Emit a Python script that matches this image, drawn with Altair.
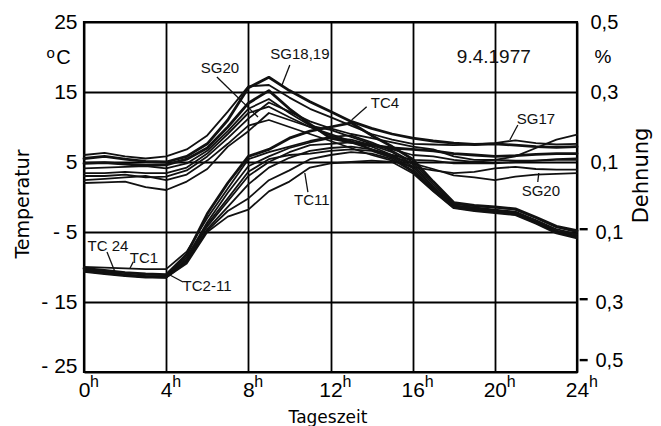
import altair as alt
import pandas as pd

# ---------------- data ----------------
hours = list(range(25))

# strain gauge temperature curves (SG), deg C, hourly 0h..24h
SG1 = [5.5, 5.8, 5.4, 5.1, 5.0, 5.8, 7.6, 11.0, 15.6, 17.1, 15.2, 13.6, 12.2, 10.8, 9.8, 9.0, 8.4, 8.0, 7.7, 7.5, 7.6, 7.4, 7.2, 7.1, 7.2]
SG2 = [4.8, 4.9, 4.7, 4.5, 4.6, 5.4, 7.0, 10.0, 13.4, 15.2, 12.6, 10.4, 8.4, 7.8, 7.4, 7.0, 6.8, 6.6, 6.2, 6.0, 5.8, 5.9, 6.1, 6.2, 6.2]
SG3 = [6.0, 6.3, 5.8, 5.5, 5.8, 6.8, 8.8, 12.2, 15.8, 16.0, 14.2, 12.6, 11.4, 10.2, 9.0, 8.2, 7.6, 7.5, 7.4, 7.5, 7.7, 8.1, 7.7, 7.5, 7.6]
SG4 = [4.1, 4.2, 4.3, 4.4, 4.1, 4.8, 6.6, 9.4, 12.6, 14.0, 12.0, 10.2, 9.6, 8.6, 7.6, 6.8, 6.0, 5.8, 5.3, 5.0, 5.3, 5.8, 7.0, 8.2, 8.9]
SG5 = [3.4, 3.4, 3.6, 3.4, 3.4, 4.2, 6.2, 9.0, 12.0, 12.9, 11.4, 10.0, 8.8, 7.8, 6.8, 6.0, 5.3, 5.2, 4.8, 4.8, 4.8, 5.0, 5.2, 5.4, 5.5]
SG6 = [2.0, 2.1, 2.2, 1.4, 1.0, 2.2, 4.0, 7.2, 9.4, 12.0, 11.0, 10.0, 9.0, 8.0, 6.8, 5.8, 4.8, 4.0, 3.1, 2.8, 2.4, 2.9, 3.2, 3.3, 3.4]
SG7 = [2.4, 2.6, 2.8, 3.0, 2.4, 3.2, 5.2, 7.6, 10.2, 11.0, 10.0, 9.0, 8.0, 7.0, 6.0, 5.2, 4.3, 3.8, 3.4, 3.6, 4.1, 4.3, 4.0, 3.9, 3.9]
SG8 = [3.0, 3.0, 3.2, 2.8, 2.9, 3.8, 5.8, 8.4, 11.2, 13.5, 12.2, 10.8, 9.8, 9.0, 8.4, 7.8, 7.2, 6.8, 5.8, 5.3, 5.3, 5.2, 5.2, 5.3, 5.3]

# thermocouple curves (TC), deg C, hourly 0h..24h
TC1 = [-10.0, -10.1, -10.2, -10.3, -10.3, -7.8, -3.0, 1.2, 5.4, 6.4, 7.2, 8.0, 8.6, 8.8, 7.8, 6.6, 5.0, 1.8, -1.0, -1.3, -1.5, -1.8, -3.0, -4.3, -5.0]
TC4 = [-10.2, -10.5, -10.8, -11.0, -11.1, -8.2, -2.4, 2.0, 5.8, 6.8, 8.4, 9.4, 10.0, 10.6, 8.8, 7.2, 5.4, 2.2, -0.8, -1.2, -1.4, -1.7, -2.9, -4.2, -4.8]
TC24 = [-10.3, -10.6, -11.1, -11.3, -11.3, -8.6, -3.6, 0.6, 4.4, 5.8, 7.0, 7.8, 8.4, 8.2, 7.4, 6.4, 4.7, 1.5, -1.2, -1.5, -1.8, -2.1, -3.3, -4.6, -5.3]
TC2 = [-10.5, -10.8, -11.2, -11.4, -11.4, -9.0, -4.2, -0.6, 3.0, 5.0, 6.4, 7.4, 7.6, 7.8, 7.2, 6.0, 4.4, 1.3, -1.3, -1.6, -1.9, -2.2, -3.5, -4.9, -5.6]
TC3 = [-10.6, -10.9, -11.2, -11.4, -11.5, -9.2, -4.6, -1.4, 1.8, 4.2, 5.6, 6.6, 7.0, 7.2, 6.8, 5.8, 4.1, 1.1, -1.4, -1.7, -2.0, -2.4, -3.6, -5.0, -5.7]
TC5 = [-10.4, -10.8, -11.1, -11.3, -11.4, -8.9, -3.9, -0.2, 3.6, 5.4, 6.0, 6.2, 6.6, 6.8, 6.6, 5.6, 3.8, 1.0, -1.5, -1.8, -2.0, -2.3, -3.4, -4.8, -5.4]
TC6 = [-10.6, -10.9, -11.2, -11.4, -11.5, -9.3, -4.8, -2.0, -0.2, 2.4, 3.8, 5.4, 6.0, 6.4, 6.2, 5.4, 3.6, 0.9, -1.5, -1.9, -2.2, -2.5, -3.7, -5.1, -5.8]
TC11 = [-10.7, -11.0, -11.3, -11.5, -11.5, -9.5, -5.0, -2.8, -1.8, 0.8, 2.2, 4.2, 4.8, 5.0, 5.2, 5.0, 3.4, 0.8, -1.6, -2.0, -2.3, -2.6, -3.8, -5.2, -5.9]

series = {"SG1": SG1, "SG2": SG2, "SG3": SG3, "SG4": SG4, "SG5": SG5, "SG6": SG6,
          "SG7": SG7, "SG8": SG8, "TC1": TC1, "TC4": TC4, "TC24": TC24, "TC2": TC2,
          "TC3": TC3, "TC5": TC5, "TC6": TC6, "TC11": TC11}
bold_series = ["SG1", "SG2", "TC4"]

x_ticks = [0, 4, 8, 12, 16, 20, 24]
y_ticks = [-25, -15, -5, 5, 15, 25]
dehnung_ticks = [-0.5, -0.3, -0.1, 0.1, 0.3, 0.5]
dehnung_per_degree = 0.02   # right scale: 25 deg C <-> 0,5 %

# curve labels with leader lines (data units: hours, deg C)
ann_text = ["SG20", "SG18,19", "TC4", "SG17", "SG20", "TC11", "TC 24", "TC1", "TC2-11"]
ann_x = [6.62, 10.51, 14.65, 22.0, 22.24, 11.09, 1.17, 2.92, 5.99]
ann_y = [18.36, 20.43, 13.43, 11.14, 0.86, -0.43, -7.0, -8.71, -12.71]
lead_x1 = [6.47, 10.02, 13.76, 21.12, 22.09, 10.9, 1.12, 2.40, 4.82]
lead_y1 = [17.14, 18.86, 12.9, 10.29, 2.14, 0.71, -7.86, -9.24, -12.14]
lead_x2 = [8.47, 9.64, 13.03, 20.73, 22.14, 10.75, 1.51, 2.24, 4.18]
lead_y2 = [11.43, 16.0, 11.0, 8.14, 3.43, 3.43, -10.71, -10.19, -11.14]

date_label = "9.4.1977"

# ---------------- build tables ----------------
rows = []
for name, vals in series.items():
    for h, v in zip(hours, vals):
        rows.append({"series": name, "hour": h, "temp": v,
                     "w": 2.8 if name in bold_series else 1.8})
df = pd.DataFrame(rows)
ann_df = pd.DataFrame({"text": ann_text, "x": ann_x, "y": ann_y})
lead_df = pd.DataFrame({"x1": lead_x1, "y1": lead_y1, "x2": lead_x2, "y2": lead_y2})
hdf = pd.DataFrame({"x": x_ticks, "y": [-27.1] * len(x_ticks), "t": ["h"] * len(x_ticks)})
# minus signs of the negative Dehnung labels, drawn as short dashes at the label heights
neg_y = [d / dehnung_per_degree + (1.7 if d < -0.4 else 0.4) for d in dehnung_ticks if d < 0]
dash_df = pd.DataFrame({"x1": [24.13] * len(neg_y), "x2": [24.52] * len(neg_y), "y": neg_y})

XS = alt.Scale(domain=[0, 24], nice=False, zero=False)
YS = alt.Scale(domain=[-25, 25], nice=False, zero=False)

NUM_FONT = "Liberation Sans"
TITLE_FONT = "DejaVu Sans"

x_axis = alt.Axis(values=x_ticks, labelExpr="'' + datum.value", grid=True, gridColor="black",
                  gridWidth=1.8, gridOpacity=1, domain=False, ticks=False,
                  labelFont=NUM_FONT, labelFontSize=21, labelColor="black", labelPadding=7,
                  labelFlush=False, labelOverlap=False,
                  title="Tageszeit", titleFont=TITLE_FONT, titleFontSize=17,
                  titleFontWeight="normal", titleColor="black", titleX=243.5, titleY=50,
                  titleAlign="center", titleBaseline="alphabetic")
y_axis = alt.Axis(values=y_ticks,
                  labelExpr="datum.value < 0 ? '- ' + abs(datum.value) : '' + datum.value",
                  labelOffset={"condition": {"test": "datum.value < -20", "value": -6}, "value": 0},
                  grid=True, gridColor="black", gridWidth=1.8, gridOpacity=1,
                  domain=False, ticks=False, labelFont=NUM_FONT, labelFontSize=21,
                  labelColor="black", labelPadding=7, labelOverlap=False,
                  title="Temperatur", titleFont=TITLE_FONT, titleFontSize=19,
                  titleFontWeight="normal", titleColor="black", titleAngle=270,
                  titleX=-56, titleY=181.5, titleAlign="center", titleBaseline="alphabetic")


def X(field):
    return alt.X(field, scale=XS, axis=x_axis)


def Y(field):
    return alt.Y(field, scale=YS, axis=y_axis)


lines = alt.Chart(df).mark_line(color="#111111", strokeJoin="round", strokeCap="round").encode(
    x=X("hour:Q"), y=Y("temp:Q"), detail="series:N",
    strokeWidth=alt.StrokeWidth("w:Q", scale=None),
)

leaders = alt.Chart(lead_df).mark_rule(color="#111111", strokeWidth=1.3).encode(
    x=X("x1:Q"), y=Y("y1:Q"), x2="x2:Q", y2="y2:Q")

dashes = alt.Chart(dash_df).mark_rule(color="black", strokeWidth=2.4).encode(
    x=X("x1:Q"), x2="x2:Q", y=Y("y:Q"))

ann = alt.Chart(ann_df).mark_text(font=NUM_FONT, fontSize=15, color="#111111",
                                  align="center", baseline="middle").encode(
    x=X("x:Q"), y=Y("y:Q"), text="text:N")

date = alt.Chart(pd.DataFrame({"x": [19.95], "y": [20.0], "t": [date_label]})).mark_text(
    font=NUM_FONT, fontSize=19, color="#111111", align="center", baseline="middle").encode(
    x=X("x:Q"), y=Y("y:Q"), text="t:N")

h1 = alt.Chart(hdf).transform_filter("datum.x < 10").mark_text(
    font=NUM_FONT, fontSize=16, color="black", align="left", baseline="alphabetic", dx=6).encode(
    x=X("x:Q"), y=Y("y:Q"), text="t:N")
h2 = alt.Chart(hdf).transform_filter("datum.x >= 10").mark_text(
    font=NUM_FONT, fontSize=16, color="black", align="left", baseline="alphabetic", dx=12).encode(
    x=X("x:Q"), y=Y("y:Q"), text="t:N")

unit_df = pd.DataFrame({"x": [-1.62, -1.0, 25.26], "y": [20.6, 19.79, 20.07],
                        "t": ["o", "C", "%"], "s": [15, 20, 19]})
units = alt.Chart(unit_df).mark_text(font=NUM_FONT, color="black", align="center",
                                     baseline="middle").encode(
    x=X("x:Q"), y=Y("y:Q"), text="t:N", size=alt.Size("s:Q", scale=None))

left = alt.layer(lines, leaders, dashes, ann, date, h1, h2, units)

right_axis = alt.Axis(orient="right", values=dehnung_ticks,
                      labelExpr="replace(format(abs(datum.value), '.1f'), '.', ',')",
                      labelPadding={"condition": {"test": "datum.value < 0", "value": 18}, "value": 13},
                      labelOffset={"condition": {"test": "datum.value < -0.4", "value": -12}, "value": 0},
                      grid=False, domain=False, ticks=False,
                      labelFont=NUM_FONT, labelFontSize=20, labelColor="black",
                      labelOverlap=False,
                      title="Dehnung", titleFont=TITLE_FONT, titleFontSize=21,
                      titleFontWeight="normal", titleColor="black", titleAngle=270,
                      titleX=70, titleY=153, titleAlign="center", titleBaseline="alphabetic")
right = alt.Chart(pd.DataFrame({"d": dehnung_ticks})).mark_tick(opacity=0).encode(
    y=alt.Y("d:Q", scale=alt.Scale(domain=[-0.5, 0.5], nice=False, zero=False), axis=right_axis))

chart = alt.layer(left, right).resolve_scale(y="independent").properties(
    width=493, height=350,
    autosize=alt.AutoSizeParams(type="none"),
    padding={"left": 76, "top": 14, "right": 76, "bottom": 54},
    background="white",
).configure_view(stroke="black", strokeWidth=2.2)

chart.save("out.html", embed_options={"renderer": "svg", "actions": False})
